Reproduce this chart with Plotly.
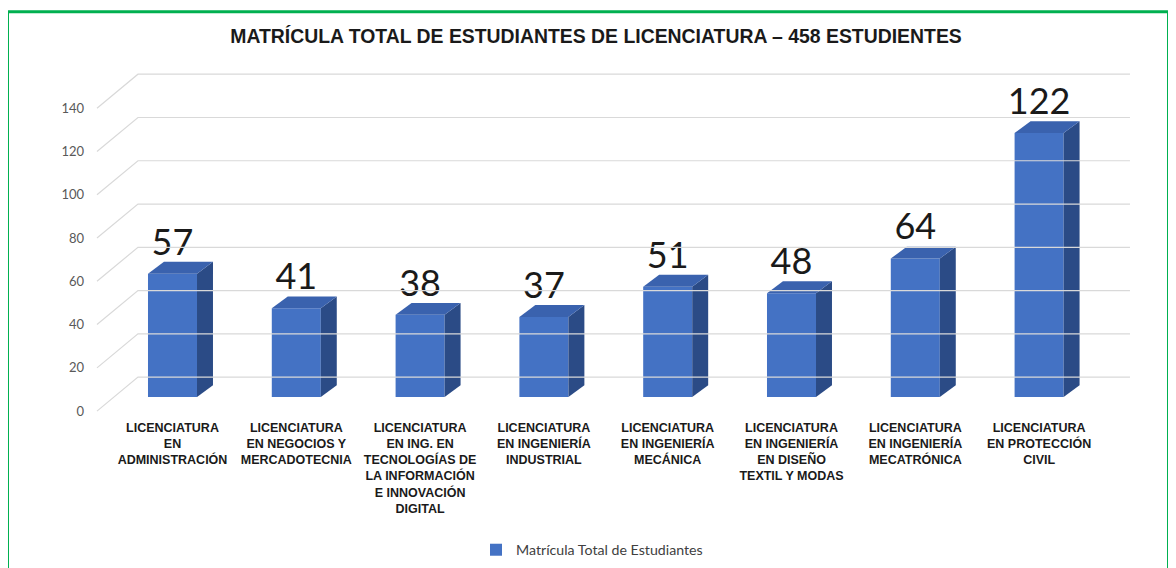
import plotly.graph_objects as go

categories = [
    "LICENCIATURA<br>EN<br>ADMINISTRACIÓN",
    "LICENCIATURA<br>EN NEGOCIOS Y<br>MERCADOTECNIA",
    "LICENCIATURA<br>EN ING. EN<br>TECNOLOGÍAS DE<br>LA INFORMACIÓN<br>E INNOVACIÓN<br>DIGITAL",
    "LICENCIATURA<br>EN INGENIERÍA<br>INDUSTRIAL",
    "LICENCIATURA<br>EN INGENIERÍA<br>MECÁNICA",
    "LICENCIATURA<br>EN INGENIERÍA<br>EN DISEÑO<br>TEXTIL Y MODAS",
    "LICENCIATURA<br>EN INGENIERÍA<br>MECATRÓNICA",
    "LICENCIATURA<br>EN PROTECCIÓN<br>CIVIL",
]
values = [57, 41, 38, 37, 51, 48, 64, 122]
y_ticks = [0, 20, 40, 60, 80, 100, 120, 140]
series_name = "Matrícula Total de Estudiantes"
title_text = "MATRÍCULA TOTAL DE ESTUDIANTES DE LICENCIATURA – 458 ESTUDIENTES"

# --- styling / 3D geometry constants (in axis units) ---
FRONT = "#4472C4"
TOP = "#3A62AE"
SIDE = "#2B4B86"
GRID = "#D9D9D9"
BAR_W = 0.396
DEPTH_X = 0.129      # bar depth offset (x units)
DEPTH_Y = 5.5        # bar depth offset (value units)
LABEL_SHIFT = 6.5    # front-plane (tick labels) vs bar plane
WALL_Y = 15.7        # front plane -> back wall (value units)
DIAG_X0 = -0.61
WALL_X0 = -0.279
WALL_X1 = 7.734
LABEL_DROP = 0.8     # value label nudge (value units)

x_idx = list(range(len(categories)))

fig = go.Figure()

for t in y_ticks:
    fig.add_trace(go.Scatter(
        x=[DIAG_X0, WALL_X0, WALL_X1], y=[t, t + WALL_Y, t + WALL_Y],
        mode="lines", line=dict(color=GRID, width=1.2),
        yaxis="y2", hoverinfo="skip", showlegend=False))

fig.add_trace(go.Bar(
    x=x_idx, y=values, width=BAR_W, marker=dict(color=FRONT, line=dict(width=0)),
    name=series_name, showlegend=True))

for i, v in zip(x_idx, values):
    xr = i + BAR_W / 2
    xl = i - BAR_W / 2
    fig.add_trace(go.Scatter(
        x=[xr, xr, xr + DEPTH_X, xr + DEPTH_X, xr],
        y=[0, v, v + DEPTH_Y, DEPTH_Y, 0],
        fill="toself", fillcolor=SIDE, mode="lines", line=dict(width=0, color=SIDE),
        hoverinfo="skip", showlegend=False))
    fig.add_trace(go.Scatter(
        x=[xl, xr, xr + DEPTH_X, xl + DEPTH_X, xl],
        y=[v, v, v + DEPTH_Y, v + DEPTH_Y, v],
        fill="toself", fillcolor=TOP, mode="lines", line=dict(width=0, color=TOP),
        hoverinfo="skip", showlegend=False))

fig.add_trace(go.Scatter(
    x=x_idx, y=[v + DEPTH_Y - LABEL_DROP for v in values], mode="text",
    text=[str(v) for v in values], textposition="top center",
    textfont=dict(family="Lato", size=36, color="#1a1a1a"),
    hoverinfo="skip", showlegend=False))

# reference-pixel layout (page body adds an 8px offset)
OFF = 8
L, R, T, B = 90 - OFF, 1140 - OFF, 60 - OFF, 419 - OFF
X0PX = 172.5 - OFF
Y0PX = 398 - OFF
XR = [(L - X0PX) / 123.8, (R - X0PX) / 123.8]
YR = [(Y0PX - B) / 2.17, (Y0PX - T) / 2.17]

def px_x(p):
    return (p - OFF - L) / (R - L)

def px_y(p):
    return (B - (p - OFF)) / (B - T)

fig.update_layout(
    width=1176, height=568,
    margin=dict(l=L, r=1176 - R, t=T, b=568 - B),
    paper_bgcolor="white", plot_bgcolor="white",
    title=dict(text=title_text, x=0.5, xanchor="center", y=1 - (36 - OFF) / 568, yanchor="middle",
               font=dict(family="Liberation Sans", size=19.4, color="#1a1a1a", weight="bold")),
    xaxis=dict(range=XR, tickvals=x_idx, ticktext=categories, showgrid=False, zeroline=False,
               showline=False, ticks="", tickangle=0, ticklabelstandoff=0,
               tickfont=dict(family="Liberation Sans", size=12.5, color="#1a1a1a", weight="bold")),
    yaxis=dict(range=YR, showgrid=False, zeroline=False, showticklabels=False, showline=False),
    yaxis2=dict(range=[YR[0] + LABEL_SHIFT, YR[1] + LABEL_SHIFT], overlaying="y", side="left",
                tickvals=y_ticks, showgrid=False, zeroline=False, showline=False, ticks="",
                ticklabelstandoff=5,
                tickfont=dict(family="Lato", size=13, color="#595959")),
    showlegend=True,
    legend=dict(orientation="h", x=px_x(476), xanchor="left", y=px_y(550), yanchor="middle",
                font=dict(family="Lato", size=14.2, color="#404040"), itemwidth=30),
    shapes=[dict(type="rect", xref="paper", yref="paper",
                 x0=px_x(7.5), x1=px_x(1168.5), y0=px_y(580), y1=px_y(11.5),
                 line=dict(color="#00B050", width=3), fillcolor="rgba(0,0,0,0)", layer="above")],
)

fig.write_html("out.html")
